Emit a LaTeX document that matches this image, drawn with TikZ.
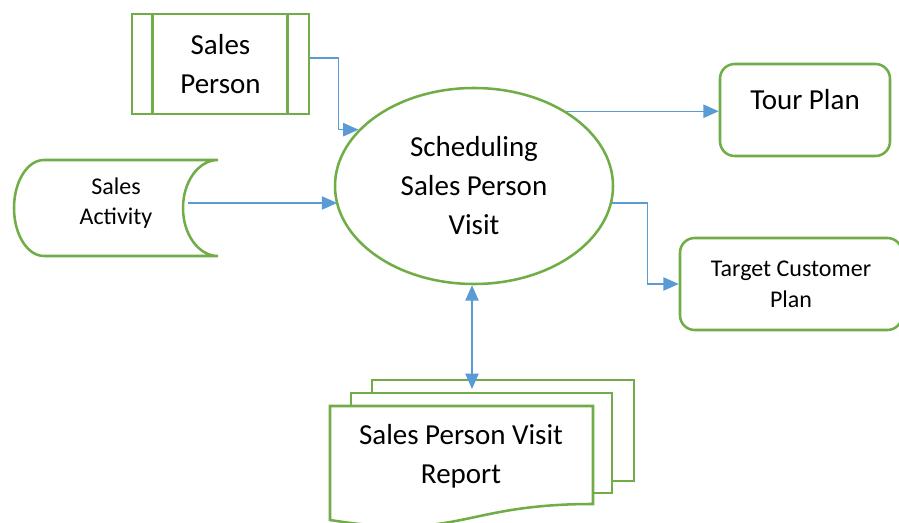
\documentclass[tikz,border=0pt]{standalone}
\usepackage{fontspec}
\setmainfont{Carlito}
\usetikzlibrary{shapes.geometric,arrows.meta}
\definecolor{dgreen}{HTML}{70AD47}
\definecolor{dblue}{HTML}{5B9BD5}
\begin{document}
\begin{tikzpicture}[x=0.75pt,y=-0.75pt,
  shp/.style={draw=dgreen,line width=1.9pt,fill=white},
  big/.style={font=\fontsize{21.75}{29.25}\selectfont,align=center},
  small/.style={font=\fontsize{18}{23}\selectfont,align=center},
  arr/.style={draw=dblue,line width=0.9pt,-{Triangle[length=11.5pt,width=10pt]}},
  darr/.style={draw=dblue,line width=0.9pt,{Triangle[length=11.5pt,width=10pt]}-{Triangle[length=11.5pt,width=10pt]}},
  rbox/.style={shp,rounded corners=11pt,inner sep=0pt}]
\useasboundingbox (0,0) rectangle (899,523);
\clip (0,0) rectangle (899,523);

% Sales Person (external entity)
\node (sp) [shp,big,rectangle,minimum width=132.75pt,minimum height=75pt,inner sep=0pt] at (220.5,64) {Sales\\Person};
\draw[dgreen,line width=1.9pt] ([xshift=16.5pt]sp.north west) -- ([xshift=16.5pt]sp.south west);
\draw[dgreen,line width=1.9pt] ([xshift=-17pt]sp.north east) -- ([xshift=-17pt]sp.south east);

% Sales Activity (stored data)
\draw[shp] (218,160) -- (44,160)
  .. controls (27.4,160) and (14,181.5) .. (14,208)
  .. controls (14,234.5) and (27.4,256) .. (44,256)
  -- (218,256)
  .. controls (198.7,256) and (183,234.5) .. (183,208)
  .. controls (183,181.5) and (198.7,160) .. (218,160);
\node (sa) [small,minimum width=108pt,inner sep=0pt] at (116,203) {Sales\\Activity};

% Process
\node (proc) [shp,big,ellipse,minimum width=208.5pt,minimum height=147pt,inner sep=0pt] at (474,186) {Scheduling\\Sales Person\\Visit};

% Tour Plan
\node (tp) [rbox,minimum width=127.5pt,minimum height=69pt] at (805,110) {};
\node (tptext) [big] at (805,100) {Tour Plan};

% Target Customer Plan
\node (tc) [rbox,small,minimum width=166.5pt,minimum height=69pt] at (791,284) {Target Customer\\Plan};

% Multi-document
\draw[shp] (372,380) rectangle (634,481);
\draw[shp] (351,393) rectangle (612,493);
\draw[shp] (330,406) -- (593,406) -- (593,504)
  .. controls (461.5,504) and (461.5,541) .. (330,520) -- cycle;
\node (rep) [big] at (461,456) {Sales Person Visit\\Report};
\coordinate (repin) at (472,389);

% Connectors
\draw[arr] ([yshift=4.5pt]sp.east) -- ++(28,0) |- (proc.154);
\draw[arr] (sa.east) -- (sa.east -| proc.189);
\draw[arr] (proc.39) -- (proc.39 -| tp.west);
\draw[arr] (proc.353) -- ++(35,0) |- (tc.west);
\draw[darr] (proc.south -| repin) -- (repin);
\end{tikzpicture}
\end{document}
